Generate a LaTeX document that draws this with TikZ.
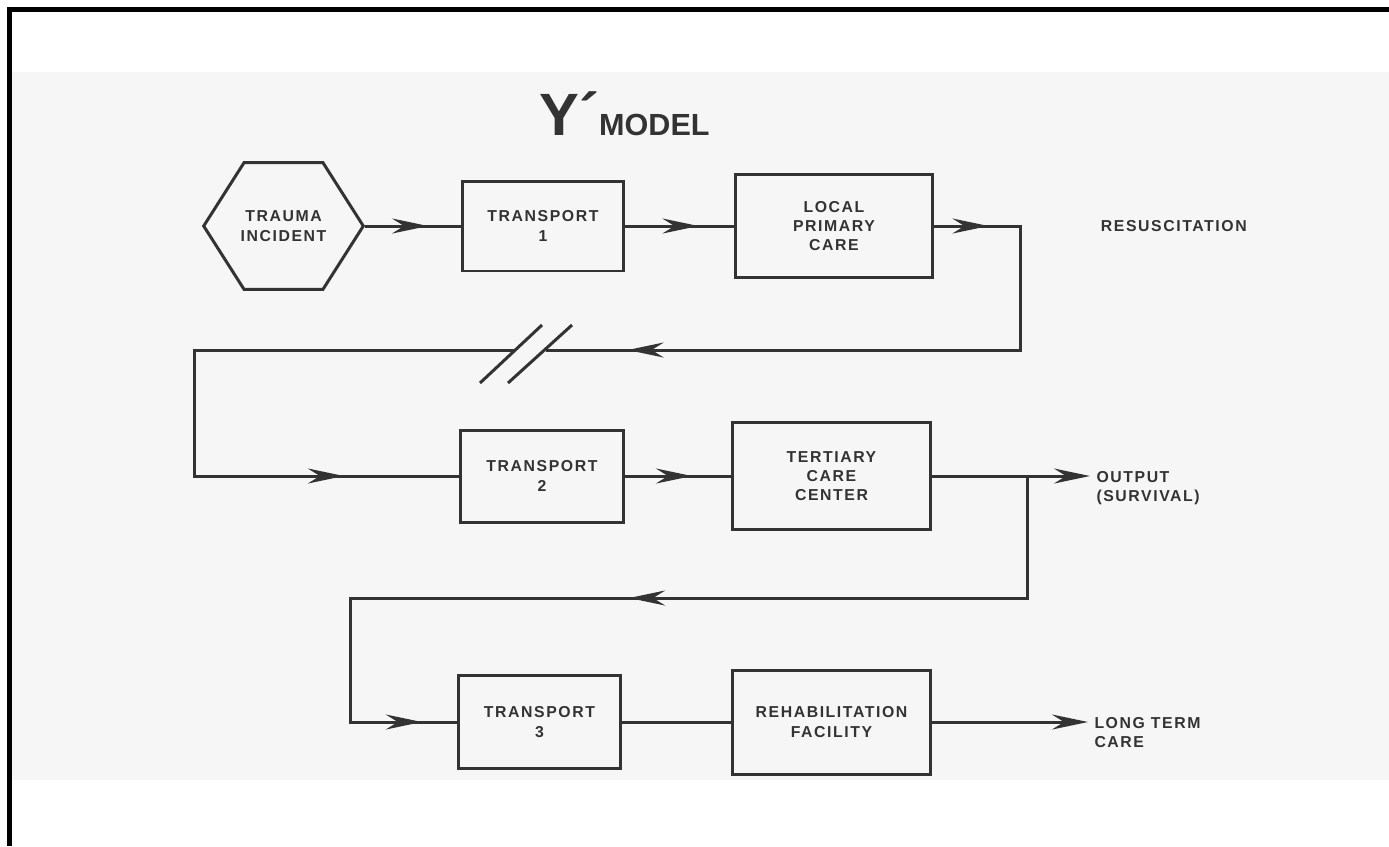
\documentclass[tikz,border=0pt]{standalone}
\usepackage{fontspec}
\setmainfont{Liberation Sans}
\newfontfamily\stagefont{Liberation Sans}[LetterSpace=10]
\usetikzlibrary{arrows.meta}
\usetikzlibrary{positioning}
\usetikzlibrary{shapes.symbols,decorations.markings}
\definecolor{ink}{HTML}{333333}
\definecolor{paper}{HTML}{F6F6F6}
\tikzset{
  flowtip/.tip={Stealth[length=0.72cm,width=0.3cm,inset=0.24cm]},
  tipat/.style={postaction={decorate,
      decoration={markings, mark=at position #1 with {\arrow{flowtip}}}}},
}

\begin{document}
\begin{tikzpicture}[x=0.02cm, y=-0.02cm, line width=0.06cm, draw=ink,
    stage/.style={draw=ink, align=center, text=ink,
      font=\stagefont\bfseries\fontsize{9}{11}\selectfont},
    hexbox/.style={stage, signal, signal to=east and west, inner xsep=-0.07cm,
      signal pointer angle=115, minimum width=2.74cm, minimum height=2.54cm},
    note/.style={align=left, text=ink, inner sep=0.1cm,
      font=\stagefont\bfseries\fontsize{9}{11}\selectfont}]

  \useasboundingbox (0,0) rectangle (1389,846);
  \fill[paper] (12,72) rectangle (1389,780);
  \draw[line width=0.09cm, black] (9.5,846) -- (9.5,9.5) -- (1389,9.5);

  \node[anchor=base west, text=ink, inner sep=0] (title) at (538,135)
    {\fontsize{34}{34}\selectfont\bfseries Y´\fontsize{17.4}{18}\selectfont MODEL};

  % first row
  \node[hexbox] (trauma) at (283.5,226) {TRAUMA\\INCIDENT};
  \node[stage, minimum width=3.24cm, minimum height=1.8cm] (t1) at (543,226) {TRANSPORT\\1};
  \node[stage, minimum width=3.96cm, minimum height=2.08cm] (lpc) at (834,226) {LOCAL\\PRIMARY\\CARE};
  \node[note, anchor=west, right=3.2cm of lpc] (resus) {RESUSCITATION};

  % second row
  \node[stage, minimum width=3.26cm, minimum height=1.84cm] (t2) at (542,476) {TRANSPORT\\2};
  \node[stage, minimum width=3.98cm, minimum height=2.14cm] (tert) at (831.5,476) {TERTIARY\\CARE\\CENTER};
  \node[note, anchor=north west] (output) at (1090,465) {OUTPUT\\(SURVIVAL)};

  % third row
  \node[stage, minimum width=3.26cm, minimum height=1.86cm] (t3) at (539.5,722) {TRANSPORT\\3};
  \node[stage, minimum width=3.98cm, minimum height=2.08cm] (rehab) at (831.5,722) {REHABILITATION\\FACILITY};
  \node[note, anchor=north west] (longterm) at (1088,711) {LONG TERM\\CARE};

  \coordinate (turnA) at (1020,350);
  \coordinate (brkR) at (546,350);
  \coordinate (brkL) at (514,350);
  \coordinate (turnB) at (194,350);
  \coordinate (split) at (1027,476);
  \coordinate (turnC) at (350,598);

  \draw[tipat=1.26cm] (trauma.east) -- (t1.west);
  \draw[tipat=1.46cm] (t1.east) -- (lpc.west);
  \draw[tipat=1.08cm, tipat=12.04cm] (lpc.east) -| (turnA) -- (brkR);
  \draw[tipat=11.92cm] (brkL) -- (turnB) |- (t2.west);
  \draw (brkL) ++(-34,33) -- ++(62,-58);
  \draw (brkR) ++(-38,33) -- ++(64,-58);

  \draw[tipat=1.34cm] (t2.east) -- (tert.west);
  \draw[-flowtip] (tert.east) -- (tert.east -| output.west);
  \draw[tipat=10.4cm, tipat=19.9cm] (split) |- (turnC) |- (t3.west);

  \draw (t3.east) -- (rehab.west);
  \draw[-flowtip] (rehab.east) -- (rehab.east -| longterm.west);

\end{tikzpicture}
\end{document}
